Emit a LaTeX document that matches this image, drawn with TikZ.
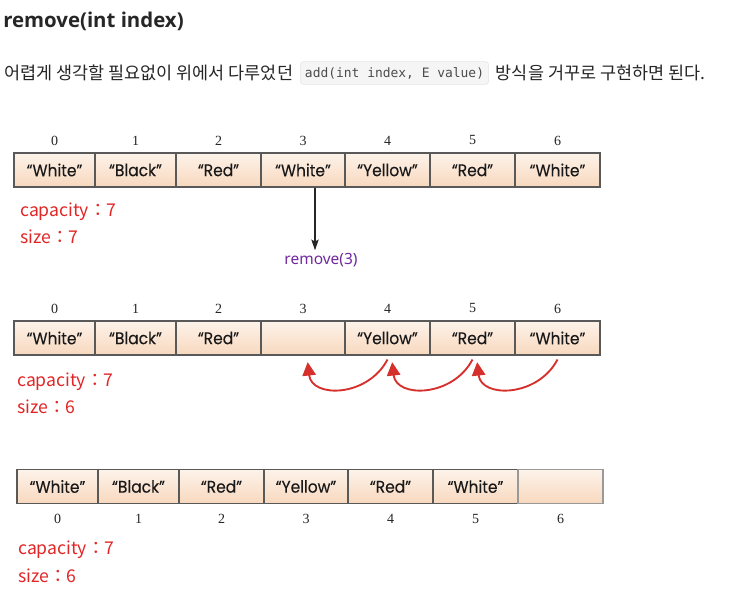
\documentclass[tikz,border=0pt]{standalone}
\usepackage{fontspec}
\setmainfont{Noto Sans}
\newfontfamily\titlefont{Open Sans}
\newfontfamily\krfont{Noto Sans CJK KR}
\newfontfamily\cellfont{Poppins}[FakeBold=0.12,FakeStretch=0.92]
\newfontfamily\codefont{DejaVu Sans Mono}
\newfontfamily\idxfont{Liberation Serif}
\usetikzlibrary{calc,positioning,arrows.meta}

\definecolor{cellTop}{RGB}{253,243,234}
\definecolor{cellBot}{RGB}{248,216,190}
\definecolor{capRed}{RGB}{226,38,38}
\definecolor{rmPurple}{RGB}{112,40,160}
\definecolor{shiftRed}{RGB}{214,48,44}

\tikzset{
  cell/.style={draw=black!65,line width=0.8pt,top color=cellTop,bottom color=cellBot,
    minimum height=25.5pt,inner sep=0pt,text=black!90,font=\cellfont\fontsize{12.6}{14}\selectfont},
  idx/.style={inner sep=0pt,text=black!85,font=\idxfont\fontsize{10.5}{12}\selectfont},
  caplabel/.style={anchor=west,inner sep=0pt,text=capRed,font=\krfont\fontsize{13.2}{15}\selectfont},
  krtext/.style={inner sep=0pt,text=black!85,font=\krfont\fontsize{13.1}{15}\selectfont},
  codebox/.style={fill=black!4,draw=black!10,rounded corners=2.5pt,inner xsep=3.5pt,
    minimum height=17pt,text=black!70,font=\codefont\fontsize{9.7}{11}\selectfont},
  downarrow/.style={draw=black!85,line width=0.9pt,-{Stealth[length=8pt,width=5.5pt,inset=1.5pt]}},
  shiftarrow/.style={draw=shiftRed,line width=1.4pt,-{Triangle[length=10pt,width=10pt]}}
}

\begin{document}
\begin{tikzpicture}[x=0.75pt,y=-0.75pt]
\useasboundingbox[fill=white] (0,0) rectangle (738,596);

% title and text line
\node[anchor=base west,inner sep=0pt,text=black!85,font=\titlefont\bfseries\fontsize{15.3}{17}\selectfont] (title) at (3,27) {remove(int index)};
\node[krtext,anchor=west] (ko1) at (4,73) {어렵게 생각할 필요없이 위에서 다루었던};
\node[codebox,right=5pt of ko1] (code) {add(int index, E value)};
\node[krtext,right=5pt of code] (ko2) {방식을 거꾸로 구현하면 된다.};

% array before remove
\foreach \i/\l/\r/\t in {0/14/95/“White”,1/95/176/“Black”,2/176/261/“Red”,3/261/345/“White”,4/345/430/“Yellow”,5/430/515/“Red”,6/515/600/“White”}{
  \node[cell,minimum width={(\r-\l)*0.75pt}] (a\i) at ({(\l+\r)/2},170) {\t};
  \node[idx] (ia\i) at ($(a\i.north)+(0,-12)$) {\i};
}
\node[caplabel] (capa) at (20,212) {capacity：7};
\node[caplabel] (sizea) at (20,237) {size：7};

\node[inner sep=0pt,text=rmPurple,font=\fontsize{11.6}{13}\selectfont] (rm) at (321,260) {remove(3)};
\draw[downarrow] ([xshift=9pt]a3.south) -- ([xshift=9pt,yshift=2pt]a3.south |- rm.north);

% array while shifting
\foreach \i/\l/\r/\t in {0/14/95/“White”,1/95/176/“Black”,2/176/261/“Red”,3/261/345/{},4/345/430/“Yellow”,5/430/515/“Red”,6/515/600/“White”}{
  \node[cell,minimum width={(\r-\l)*0.75pt}] (b\i) at ({(\l+\r)/2},338) {\t};
  \node[idx] (ib\i) at ($(b\i.north)+(0,-12)$) {\i};
}
\foreach \s/\d in {4/3,5/4,6/5}{
  \draw[shiftarrow] ([yshift=-3pt]b\s.south) .. controls +(-20,38) and +(4,36) .. ([xshift=3.5pt,yshift=-5pt]b\d.south);
}
\node[caplabel] (capb) at (17,382) {capacity：7};
\node[caplabel] (sizeb) at (17,407) {size：6};

% array after remove
\foreach \i/\l/\r/\t in {0/17/98/“White”,1/98/179/“Black”,2/179/264/“Red”,3/264/348/“Yellow”,4/348/433/“Red”,5/433/518/“White”}{
  \node[cell,minimum width={(\r-\l)*0.75pt}] (c\i) at ({(\l+\r)/2},486.5) {\t};
  \node[idx] (ic\i) at ($(c\i.south)+(0,15)$) {\i};
}
\node[cell,draw=black!40,minimum width=63.75pt] (c6) at (560.5,486.5) {};
\node[idx] (ic6) at ($(c6.south)+(0,15)$) {6};
\node[caplabel] (capc) at (18,550) {capacity：7};
\node[caplabel] (sizec) at (18,576) {size：6};
\end{tikzpicture}
\end{document}
